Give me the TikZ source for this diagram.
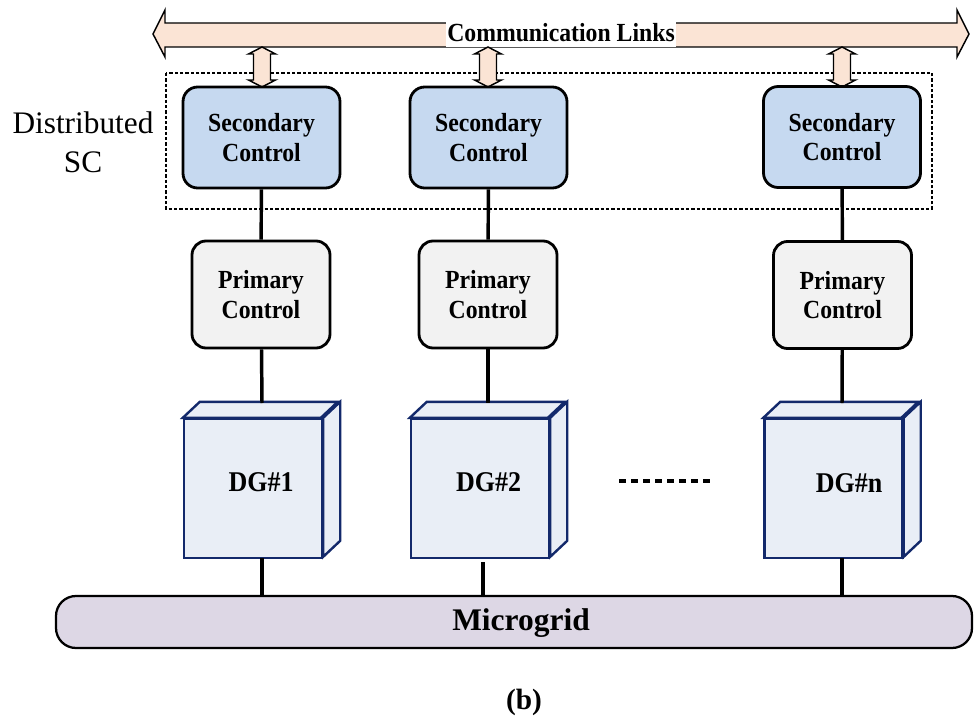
\documentclass[tikz,border=0pt]{standalone}
\usepackage{graphicx}
\usepackage{fontspec}
\setmainfont{Liberation Serif}
\definecolor{secfill}{HTML}{C6D9F0}
\definecolor{prifill}{HTML}{F2F2F2}
\definecolor{dgfill}{HTML}{E9EEF6}
\definecolor{dgline}{HTML}{13296B}
\definecolor{arrfill}{HTML}{FBE4D5}
\definecolor{mgfill}{HTML}{DDD7E5}
\newcommand\vst[1]{\scalebox{1}[1.1]{#1}}
\newcommand\twolines[2]{\raisebox{-2.4pt}[\height][\depth]{\vst{\begin{tabular}{@{}c@{}}#1\\#2\end{tabular}}}}
\begin{document}
\begin{tikzpicture}[x=0.75pt,y=-0.75pt,
  secbox/.style={draw=black,line width=2.1pt,fill=secfill,rounded corners=11pt,
    minimum width=117.75pt,minimum height=75.75pt,inner sep=0pt,align=center,
    font=\fontsize{17.8}{19.8}\selectfont\bfseries},
  pribox/.style={draw=black,line width=2.1pt,fill=prifill,rounded corners=10.5pt,
    minimum width=103.5pt,minimum height=80.25pt,inner sep=0pt,align=center,
    font=\fontsize{17.8}{19.8}\selectfont\bfseries},
  dgface/.style={draw=dgline,line width=1.8pt,fill=dgfill,line join=miter},
  dgbox/.style={dgface,minimum width=103.5pt,minimum height=104.25pt,inner sep=0pt},
  dglabel/.style={font=\fontsize{19.5}{22}\selectfont\bfseries,inner sep=0pt},
  conn/.style={line width=2.6pt,draw=black},
  linkarrow/.style={draw=black,line width=1.1pt,fill=arrfill,line join=miter}]
\useasboundingbox (0,0) rectangle (974,717);

% communication bus arrow
\draw[linkarrow] (153,34) -- (165,10) -- (165,23) -- (957,23) -- (957,10) -- (969,34)
  -- (957,57) -- (957,47) -- (165,47) -- (165,57) -- cycle;
\node[fill=white,inner xsep=1pt,minimum height=20pt,
  font=\fontsize{17.8}{20}\selectfont\bfseries] (comm) at (561,33) {\vst{Communication Links}};

% dotted frame
\draw[line width=1.1pt,dash pattern=on 2.4pt off 1.6pt] (166,73) rectangle (932,209);
\node[align=center,font=\fontsize{23.5}{29}\selectfont,inner sep=0pt] (dsc) at (83,142) {Distributed\\SC};

% small double arrows
\foreach \c in {262,488,842}{
  \draw[linkarrow] (\c,47) -- (\c+13.5,54) -- (\c+8.5,54) -- (\c+8.5,80) -- (\c+13.5,80)
    -- (\c,87) -- (\c-13.5,80) -- (\c-8.5,80) -- (\c-8.5,54) -- (\c-13.5,54) -- cycle;
}

% secondary control
\node[secbox] (sc1) at (261.5,137.5) {\twolines{Secondary}{Control}};
\node[secbox] (sc2) at (488.5,137.5) {\twolines{Secondary}{Control}};
\node[secbox] (sc3) at (842,137) {\twolines{Secondary}{Control}};

% primary control
\node[pribox] (pc1) at (261,294.5) {\twolines{Primary}{Control}};
\node[pribox] (pc2) at (488,294.5) {\twolines{Primary}{Control}};
\node[pribox] (pc3) at (842.5,295) {\twolines{Primary}{Control}};

% DG cubes
\foreach \n/\x in {1/253,2/480,3/833.5}{
  \node[dgbox] (dg\n) at (\x,488.5) {};
  \draw[dgface] (dg\n.north west) -- ++(17,-16) -- ++(138,0) -- ++(-17,16) -- cycle;
  \draw[dgface] (dg\n.north east) -- ++(17,-16) -- ++(0,139) -- ++(-17,16) -- cycle;
}
\node[dglabel] (l1) at (261,482) {\vst{DG\#1}};
\node[dglabel] (l2) at (488.5,482) {\vst{DG\#2}};
\node[dglabel] (l3) at (849,483) {\vst{DG\#n}};

% microgrid bus
\node[draw=black,line width=1.7pt,fill=mgfill,rounded corners=15pt,
  minimum width=687pt,minimum height=39pt,inner sep=0pt] (mg) at (514,622) {};
\node[font=\fontsize{23.6}{26}\selectfont\bfseries,inner sep=0pt] (mgl) at (521,623) {Microgrid};

% connectors
\coordinate (t1) at (262,403);
\coordinate (t2) at (488,403);
\coordinate (t3) at (842,403);
\coordinate (b1) at (262,558);
\coordinate (b2) at (483,562);
\coordinate (b3) at (842,558);
\draw[conn] (sc1) -- (pc1);
\draw[conn] (sc2) -- (pc2);
\draw[conn] (sc3) -- (pc3);
\draw[conn] (pc1) -- (t1);
\draw[conn] (pc2) -- (t2);
\draw[conn] (pc3) -- (t3);
\draw[conn] (b1) -- (b1 |- mg.north);
\draw[conn] (b2) -- (b2 |- mg.north);
\draw[conn] (b3) -- (b3 |- mg.north);

% ellipsis
\coordinate (e1) at (619,481);
\coordinate (e2) at (710,481);
\draw[line width=2.4pt,dash pattern=on 5.2pt off 3.8pt] (e1) -- (e2);

\node[font=\fontsize{22}{24}\selectfont\bfseries,inner sep=0pt] (cap) at (524,702) {(b)};
\end{tikzpicture}
\end{document}
